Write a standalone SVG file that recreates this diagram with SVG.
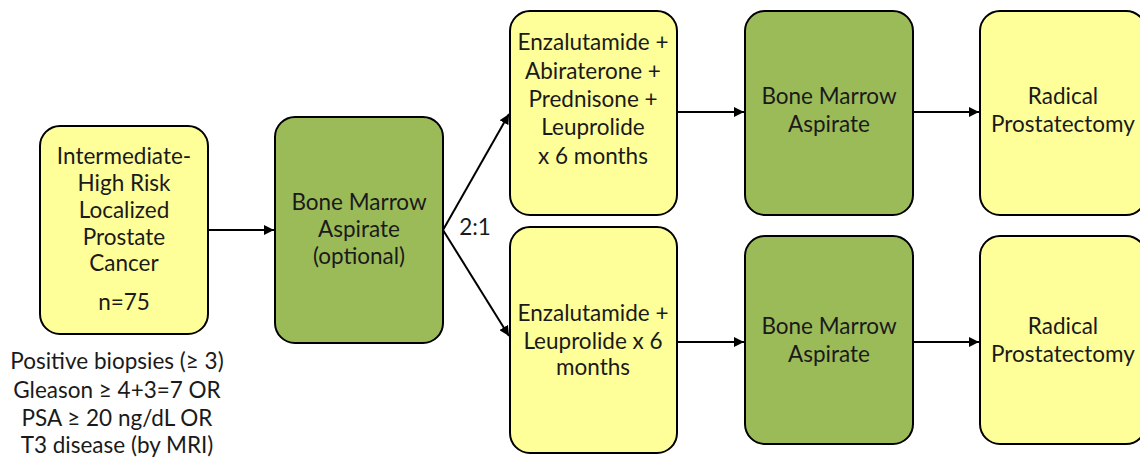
<svg xmlns="http://www.w3.org/2000/svg" width="1140" height="458" viewBox="0 0 1140 458">
<style>
.y{fill:#FFFF99;stroke:#000;stroke-width:2}
.g{fill:#9BBB59;stroke:#000;stroke-width:2}
text{font-family:Lato,"Open Sans","Liberation Sans",sans-serif;font-size:22.5px;fill:#1a1a1a;text-anchor:middle}
.c line{stroke:#000;stroke-width:2}
</style>
<defs>
<marker id="ah" viewBox="0 0 10 10" refX="10" refY="5" markerWidth="5" markerHeight="5" orient="auto" markerUnits="strokeWidth">
<path d="M0,0 L10,5 L0,10 z" fill="#000"/>
</marker>
</defs>
<rect width="1140" height="458" fill="#fff"/>
<g class="c">
<line x1="208" y1="230" x2="274" y2="230" marker-end="url(#ah)"/>
<line x1="443" y1="230" x2="509" y2="114" marker-end="url(#ah)"/>
<line x1="443" y1="230" x2="509" y2="336" marker-end="url(#ah)"/>
<line x1="677" y1="112" x2="744" y2="112" marker-end="url(#ah)"/>
<line x1="913" y1="112" x2="979" y2="112" marker-end="url(#ah)"/>
<line x1="677" y1="342" x2="744" y2="342" marker-end="url(#ah)"/>
<line x1="913" y1="342" x2="979" y2="342" marker-end="url(#ah)"/>
<text x="475" y="235">2:1</text>
</g>
<g id="n1">
<rect class="y" x="40" y="126" width="168" height="208" rx="20"/>
<text x="124" y="164">Intermediate-</text>
<text x="124" y="191">High Risk</text>
<text x="124" y="218">Localized</text>
<text x="124" y="245">Prostate</text>
<text x="124" y="271">Cancer</text>
<text x="124" y="310">n=75</text>
</g>
<g id="criteria">
<text x="117" y="369">Positive biopsies (≥ 3)</text>
<text x="117" y="398">Gleason ≥ 4+3=7 OR</text>
<text x="117" y="426">PSA ≥ 20 ng/dL OR</text>
<text x="117" y="453">T3 disease (by MRI)</text>
</g>
<g id="n2">
<rect class="g" x="275" y="117" width="168" height="226" rx="20"/>
<text x="359" y="210">Bone Marrow</text>
<text x="359" y="237">Aspirate</text>
<text x="359" y="264">(optional)</text>
</g>
<g id="n3">
<rect class="y" x="510" y="11" width="167" height="204" rx="20"/>
<text x="593" y="50">Enzalutamide +</text>
<text x="593" y="79">Abiraterone +</text>
<text x="593" y="107">Prednisone +</text>
<text x="593" y="135">Leuprolide</text>
<text x="593" y="164">x 6 months</text>
</g>
<g id="n4">
<rect class="y" x="510" y="227" width="167" height="226" rx="20"/>
<text x="593" y="321">Enzalutamide +</text>
<text x="593" y="349">Leuprolide x 6</text>
<text x="593" y="375">months</text>
</g>
<g id="n5">
<rect class="g" x="745" y="11" width="168" height="204" rx="20"/>
<text x="829" y="104">Bone Marrow</text>
<text x="829" y="132">Aspirate</text>
</g>
<g id="n6">
<rect class="y" x="980" y="11" width="166" height="204" rx="20"/>
<text x="1063" y="104">Radical</text>
<text x="1063" y="132">Prostatectomy</text>
</g>
<g id="n7">
<rect class="g" x="745" y="236" width="168" height="208" rx="20"/>
<text x="829" y="334">Bone Marrow</text>
<text x="829" y="362">Aspirate</text>
</g>
<g id="n8">
<rect class="y" x="980" y="236" width="166" height="208" rx="20"/>
<text x="1063" y="334">Radical</text>
<text x="1063" y="362">Prostatectomy</text>
</g>
</svg>
